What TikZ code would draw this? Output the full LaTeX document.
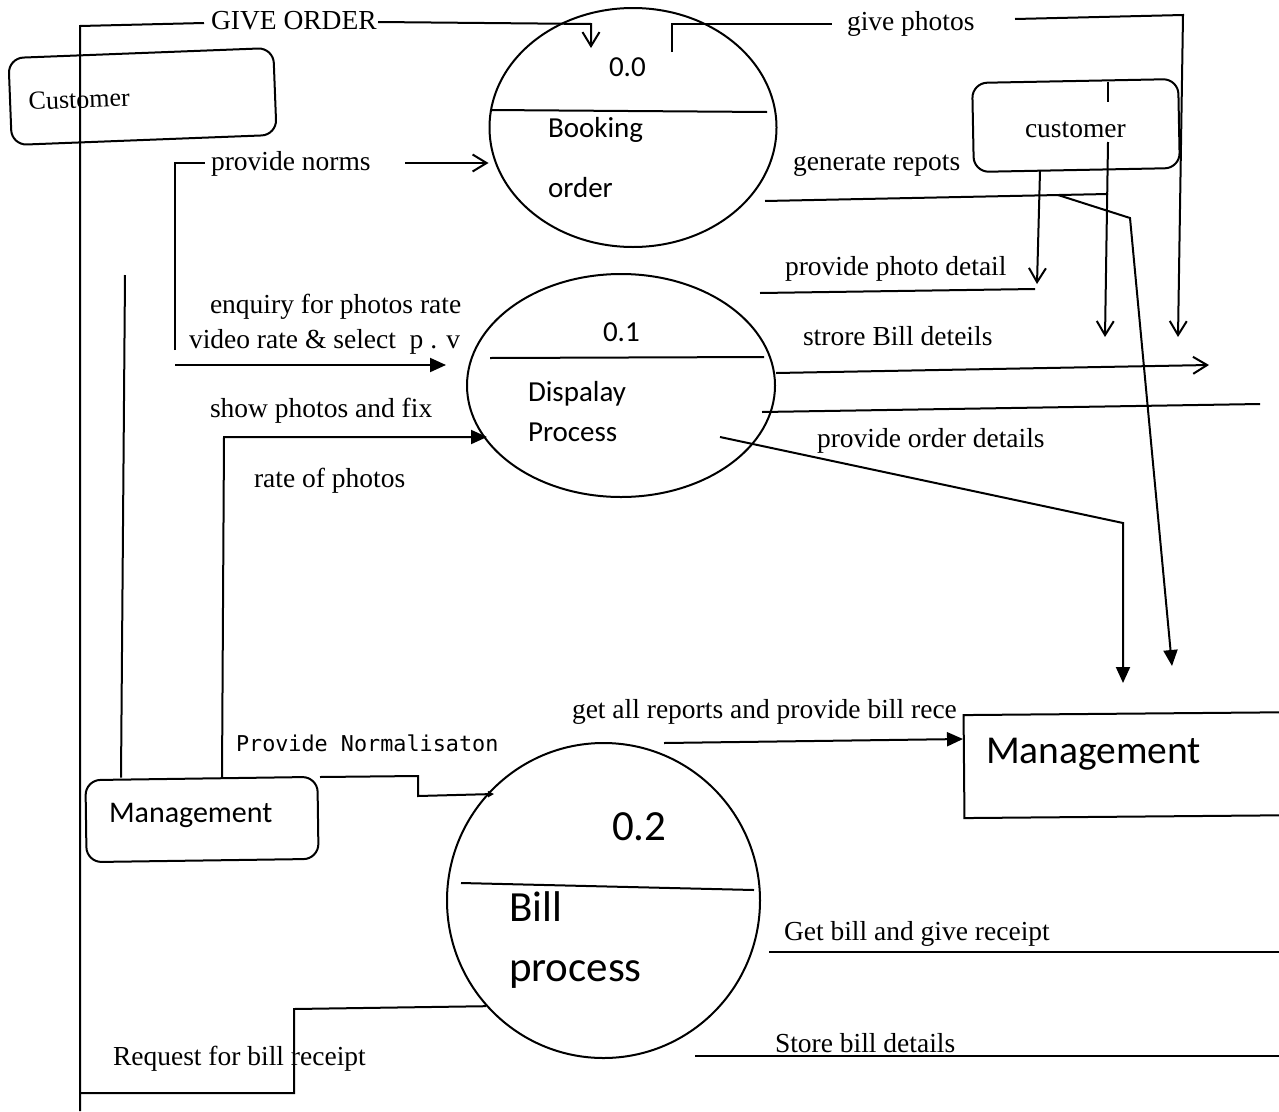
\documentclass[tikz,border=0pt]{standalone}
\usepackage{fontspec}
\setmainfont{Liberation Serif}
\newfontfamily\calfont{Carlito}
\newfontfamily\mymono{DejaVu Sans Mono}
\usetikzlibrary{shapes.geometric,arrows.meta}
\begin{document}
\begin{tikzpicture}[x=1pt,y=-1pt,line width=2pt,
  lbl/.style={anchor=base west, inner sep=0pt, font=\fontsize{27.5}{30}\selectfont},
  slbl/.style={anchor=base west, inner sep=0pt, font=\calfont\fontsize{29}{32}\selectfont},
  blbl/.style={anchor=base west, inner sep=0pt, font=\calfont\fontsize{43}{46}\selectfont},
  mlbl/.style={anchor=base west, inner sep=0pt, font=\mymono\fontsize{21.8}{24}\selectfont},
  proc/.style={ellipse, draw, inner sep=0pt},
  ent/.style={draw, rounded corners=15pt, inner sep=0pt},
  openarr/.style={-{Straight Barb[length=14pt,width=17pt]}},
  fillarr/.style={-{Triangle[length=16pt,width=14pt]}},
  smallarr/.style={-{Triangle[length=6pt,width=6pt]}}]
\useasboundingbox (0,0) rectangle (1279,1111);
\clip (0,0) rectangle (1279,1111);

% ---------- processes ----------
\node[proc, minimum width=287pt, minimum height=239pt] (p0) at (633,127.5) {};
\node[proc, minimum width=308pt, minimum height=223pt] (p1) at (621,385.5) {};
\node[proc, minimum width=313pt, minimum height=315pt] (p2) at (603.5,900.5) {};
\draw (490,110) -- (767,112);
\draw (490,358) -- (764,357);
\draw (461,883) -- (754,890);

\node[slbl] (t00) at (608,76) {0.0};
\node[slbl] (tbk) at (547,137) {Booking};
\node[slbl] (tor) at (547,197) {order};
\node[slbl] (t01) at (602,341) {0.1};
\node[slbl] (tdp) at (527,401) {Dispalay};
\node[slbl] (tpr) at (527,441) {Process};
\node[blbl] (t02) at (611,840) {0.2};
\node[blbl] (tbl) at (508,921) {Bill};
\node[blbl] (tbp) at (508,981) {process};

% ---------- entities ----------
\node[ent, minimum width=265pt, minimum height=87pt, rotate=2.2] (cust) at (142.5,96.5) {};
\node[lbl, rotate=2.2, font=\fontsize{26}{28}\selectfont] (tcu) at (28,110) {Customer};
\node[ent, minimum width=206pt, minimum height=89pt, rotate=1.1] (custR) at (1076,125.5) {};
\node[lbl] (tcr) at (1024,137) {customer};
\node[ent, minimum width=232pt, minimum height=82pt, rotate=0.8] (mgmtL) at (202,819.5) {};
\node[slbl, font=\calfont\fontsize{30}{32}\selectfont] (tml) at (108,822) {Management};
\node[draw, inner sep=0pt, minimum width=360pt, minimum height=103pt, rotate=0.5] (mgmtR) at (1144,765) {};
\node[slbl, font=\calfont\fontsize{39.5}{42}\selectfont] (tmr) at (985,763) {Management};

% ---------- named free ends ----------
\coordinate (bot) at (80,1111);
\coordinate (topL) at (80,26);
\coordinate (go1) at (204,23);
\coordinate (go2) at (378,22);
\coordinate (go3) at (591,24);
\coordinate (go4) at (591,48);

% GIVE ORDER and left trunk
\draw (bot) -- (topL) -- (go1);
\draw[openarr] (go2) -- (go3) -- (go4);
\node[lbl] (lgo) at (210,29) {GIVE ORDER};

% Request for bill receipt
\coordinate (rq1) at (80,1093);
\coordinate (rq2) at (294,1093);
\coordinate (rq3) at (294,1009);
\draw (rq1) -- (rq2) -- (rq3) -- (p2.222);
\node[lbl] (lrq) at (112,1065) {Request for bill receipt};

% provide norms / enquiry
\coordinate (pn0) at (175,350);
\coordinate (pn1) at (175,163);
\coordinate (pn2) at (205,163);
\coordinate (pn3) at (405,163);
\draw (pn0) -- (pn1) -- (pn2);
\draw[openarr] (pn3) -- (p0.west |- pn3);
\node[lbl] (lpn) at (210,170) {provide norms};

\coordinate (eq0) at (175,365);
\coordinate (eq1) at (446,365);
\draw[fillarr] (eq0) -- (eq1);
\node[lbl] (leq1) at (209,313) {enquiry for photos rate};
\node[lbl] (leq2) at (188,348) {video rate \& select\ \ p . v};

% inner vertical from management
\coordinate (iv0) at (125,275);
\draw (iv0) -- (mgmtL.north -| 121,0);

% show photos and fix
\coordinate (sp1) at (224,437);
\coordinate (sp2) at (487,437);
\draw[fillarr] (mgmtL.north -| 222,0) -- (sp1) -- (sp2);
\node[lbl] (lsp) at (209,417) {show photos and fix};
\node[lbl] (lrp) at (253,487) {rate of photos};

% Provide Normalisaton
\coordinate (pz0) at (320,777);
\coordinate (pz1) at (418,776);
\coordinate (pz2) at (418,796);
\coordinate (pz3) at (494,794);
\draw[smallarr] (pz0) -- (pz1) -- (pz2) -- (pz3);
\node[mlbl] (lpz) at (235,751) {Provide Normalisaton};

% give photos
\coordinate (gp0) at (672,52);
\coordinate (gp1) at (672,24);
\coordinate (gp2) at (832,24);
\coordinate (gp3) at (1015,19);
\coordinate (gp4) at (1183,15);
\coordinate (gp5) at (1178,337);
\draw (gp0) -- (gp1) -- (gp2);
\draw[openarr] (gp3) -- (gp4) -- (gp5);
\node[lbl] (lgp) at (846,30) {give photos};

% customer vertical
\coordinate (cv0) at (1108,102);
\coordinate (cv1) at (1108,142);
\coordinate (cv2) at (1105,337);
\draw (1108,82) -- (cv0);
\draw[openarr] (cv1) -- (cv2);

% generate repots
\coordinate (gr0) at (765,201);
\coordinate (gr1) at (1108,194);
\coordinate (gr2) at (1058,195);
\coordinate (gr3) at (1130,218);
\coordinate (gr4) at (1172,666);
\draw (gr0) -- (gr1);
\draw[fillarr] (gr2) -- (gr3) -- (gr4);
\node[lbl] (lgr) at (792,170) {generate repots};

% provide photo detail
\coordinate (pd0) at (1040,171);
\coordinate (pd1) at (1037,284);
\coordinate (pd2) at (760,293);
\coordinate (pd3) at (1035,289);
\draw[openarr] (pd0) -- (pd1);
\draw (pd2) -- (pd3);
\node[lbl] (lpd) at (784,275) {provide photo detail};

% strore Bill deteils
\coordinate (sb1) at (1209,365);
\draw[openarr] (p1.east |- 0,373) -- (sb1);
\node[lbl] (lsb) at (802,345) {strore Bill deteils};

\coordinate (ln0) at (762,412);
\coordinate (ln1) at (1260,404);
\draw (ln0) -- (ln1);

% provide order details
\coordinate (od0) at (720,437);
\coordinate (od1) at (1123,523);
\coordinate (od2) at (1123,683);
\draw[fillarr] (od0) -- (od1) -- (od2);
\node[lbl] (lod) at (816,447) {provide order details};

% get all reports
\coordinate (ga0) at (664,743);
\draw[fillarr] (ga0) -- (mgmtR.west |- 0,739);
\node[lbl] (lga) at (571,718) {get all reports and provide bill rece};

% Get bill and give receipt
\coordinate (gb0) at (769,952);
\coordinate (gb1) at (1290,952);
\draw (gb0) -- (gb1);
\node[lbl] (lgb) at (783,940) {Get bill and give receipt};

% Store bill details
\coordinate (sd0) at (695,1056);
\coordinate (sd1) at (1290,1056);
\draw (sd0) -- (sd1);
\node[lbl] (lsd) at (774,1052) {Store bill details};
\end{tikzpicture}
\end{document}
